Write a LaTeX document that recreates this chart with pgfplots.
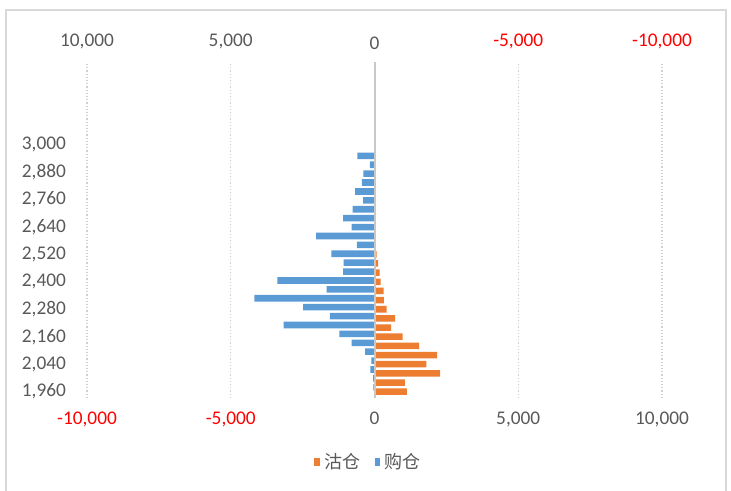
\documentclass[border=0pt]{standalone}
\usepackage{pgfplots}
\pgfplotsset{compat=1.18}
\usepackage{fontspec}
\setmainfont{Carlito}
\newfontfamily\cjk{Noto Sans CJK SC}
\definecolor{txt}{HTML}{595959}
\definecolor{grd}{HTML}{D9D9D9}
\definecolor{zro}{HTML}{C8C8C8}
\definecolor{org}{HTML}{ED7D31}
\definecolor{blu}{HTML}{5B9BD5}
\definecolor{neg}{HTML}{FF0000}
% 1 px of the reference = 0.75pt
\pgfplotsset{
  frame/.style={
    at={(65.25pt,69.75pt)}, anchor=south west, scale only axis,
    width=431.25pt, height=252pt,
    xmin=-10000, xmax=10000,
    axis line style={draw=none}, tick style={draw=none},
    xtick={-10000,-5000,0,5000,10000}, scaled x ticks=false,
    ticklabel style={font=\fontsize{14.5}{17}\selectfont, text=txt},
  },
}
\begin{document}
\begin{tikzpicture}
\path[use as bounding box] (0pt,0pt) rectangle (548.25pt,368.25pt);
\draw[grd, line width=1.2pt] (4.5pt,-8pt) -- (4.5pt,360.75pt) -- (544.5pt,360.75pt) -- (544.5pt,-8pt);

% top axis, reversed (secondary)
\begin{axis}[frame,
  x dir=reverse, ymin=0, ymax=1, hide y axis, axis x line*=top,
  xticklabels={\textcolor{neg}{-10,000},\textcolor{neg}{-5,000},0,{5,000},{10,000}},
  xticklabel style={yshift=6pt},
]
\end{axis}

% main axis
\begin{axis}[frame,
  ymin=-0.69, ymax=36,
  xticklabels={\textcolor{neg}{-10,000},\textcolor{neg}{-5,000},0,{5,000},{10,000}},
  xticklabel style={yshift=-7pt},
  ytick={0,3,...,27},
  yticklabels={{1,960},{2,040},{2,160},{2,280},{2,400},{2,520},{2,640},{2,760},{2,880},{3,000}},
  yticklabel style={xshift=-8pt},
  xmajorgrids,
  major grid style={grd!90!gray, line width=0.9pt, dash pattern=on 0.9pt off 1.5pt},
  xbar, bar width=4.9pt, bar shift=0pt,
  legend columns=2,
  legend style={at={(0.49,-0.19)}, anchor=center, draw=none, fill=none,
    font=\cjk\fontsize{13.5}{16}\selectfont, text=txt,
    /tikz/every odd column/.append style={column sep=1pt},
    /tikz/every even column/.append style={column sep=9pt}},
  legend image code/.code={\fill (0pt,-3.1pt) rectangle (4.3pt,3.1pt);},
]
\addplot[fill=org, draw=none] coordinates {
  (1130,0) (1060,1) (2280,2) (1805,3) (2175,4) (1550,5) (980,6) (575,7)
  (715,8) (425,9) (330,10) (320,11) (215,12) (180,13) (130,14) (75,15)
};
\addlegendentry{沽仓}
\addplot[fill=blu, draw=none] coordinates {
  (-40,0.48) (-50,1.45) (-145,2.42) (-110,3.40) (-330,4.37) (-795,5.34)
  (-1225,6.31) (-3160,7.28) (-1550,8.26) (-2480,9.23) (-4180,10.20)
  (-1665,11.17) (-3380,12.14) (-1095,13.12) (-1070,14.09) (-1500,15.06)
  (-615,16.03) (-2030,17.00) (-800,17.98) (-1090,18.95) (-765,19.92)
  (-400,20.89) (-670,21.86) (-440,22.84) (-390,23.81) (-160,24.78) (-600,25.75)
};
\addlegendentry{购仓}
\draw[zro, line width=1.5pt] (axis cs:0,-0.69) -- (axis cs:0,36);
\end{axis}
\end{tikzpicture}
\end{document}
